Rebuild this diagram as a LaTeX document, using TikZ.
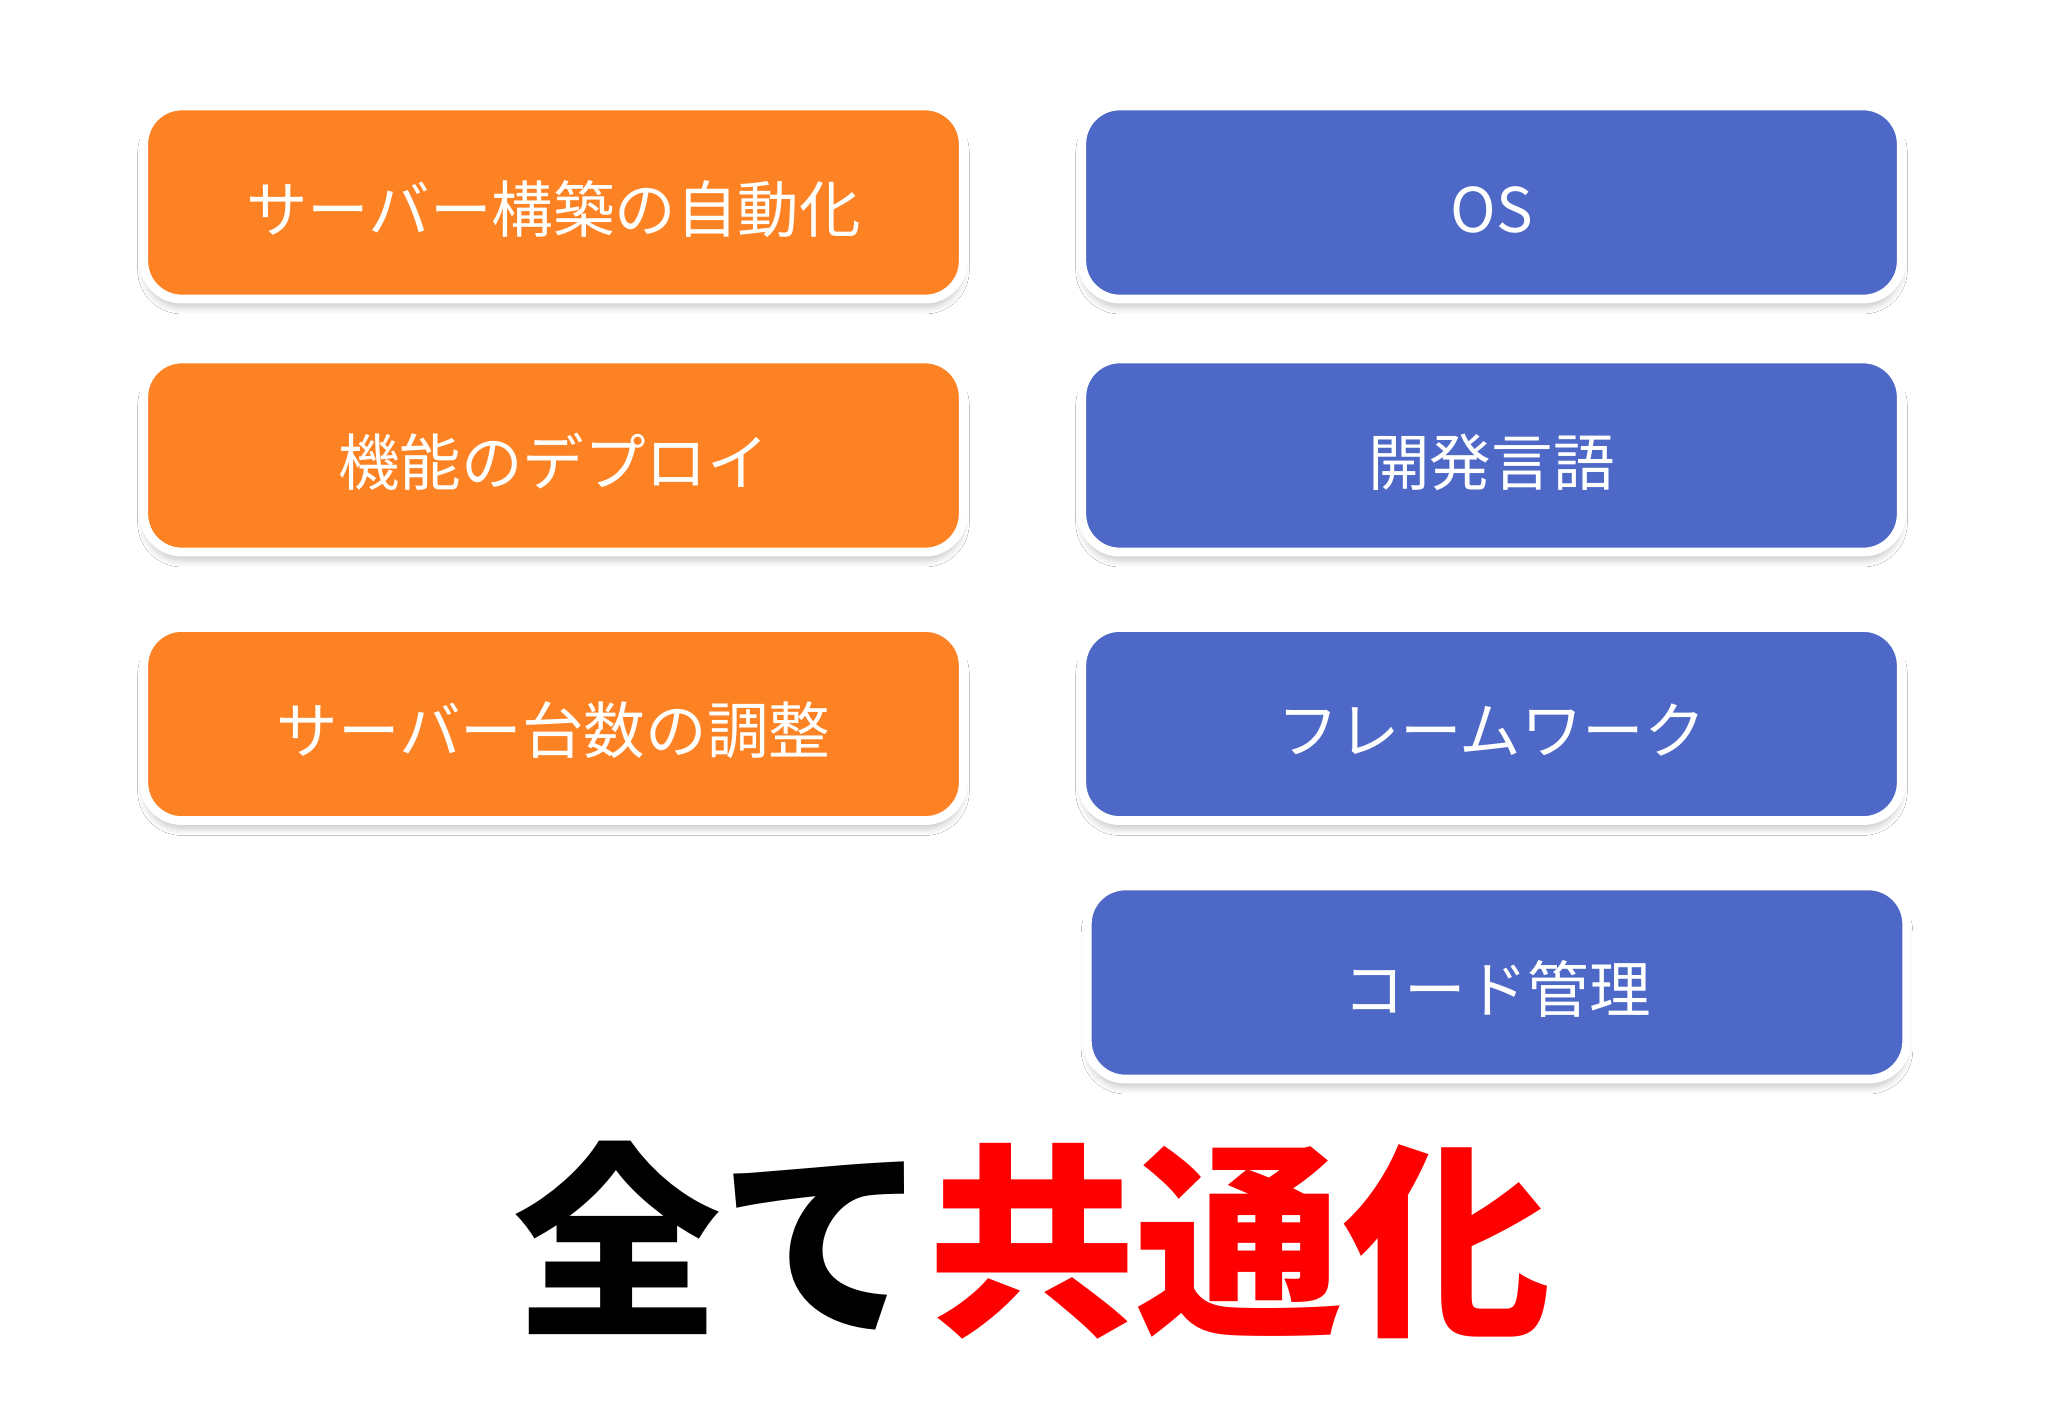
\documentclass[tikz,border=0pt]{standalone}
\usepackage{fontspec}
\newfontfamily\jpfont{Noto Sans CJK JP}
\usetikzlibrary{shadows, shadows.blur}
\definecolor{boxorange}{RGB}{253,130,36}
\definecolor{boxblue}{RGB}{78,104,199}
\tikzset{
    box/.style={
        draw=white, line width=2.5pt, rounded corners=0.38cm,
        minimum width=8.19cm, minimum height=1.93cm, inner sep=0pt,
        text height=17pt, text depth=0pt,
        text=white, font=\jpfont\fontsize{17.5}{20}\selectfont,
        blur shadow={shadow xshift=0pt, shadow yshift=-2.5pt, shadow opacity=20, shadow blur steps=6}
    },
    boxO/.style={box, fill=boxorange},
    boxB/.style={box, fill=boxblue}
}

\begin{document}
\begin{tikzpicture}[x=0.01cm, y=-0.01cm]
    \def \xa {553.5}
    \def \xb {1491.5}
    \useasboundingbox[fill=white] (0,0) rectangle (2048,1418);
    % left column
    \node[boxO] (a1) at (\xa, 202.5) {サーバー構築の自動化};
    \node[boxO] (a2) at (\xa, 455.5) {機能のデプロイ};
    \node[boxO] (a3) at (\xa, 724) {サーバー台数の調整};
    % right column
    \node[boxB] (b1) at (\xb, 202.5) {OS};
    \node[boxB] (b2) at (\xb, 455.5) {開発言語};
    \node[boxB] (b3) at (\xb, 724) {フレームワーク};
    \node[boxB] (b4) at (\xb+5.5, 982.5) {コード管理};
    % bottom line
    \node[font=\jpfont\bfseries\fontsize{59}{66}\selectfont, inner sep=0pt] (t) at (1032, 1240) {全て\textcolor{red}{共通化}};
\end{tikzpicture}
\end{document}
